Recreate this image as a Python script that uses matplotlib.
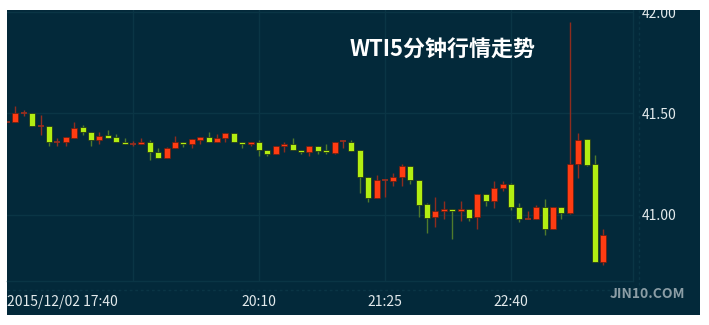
import matplotlib
matplotlib.use("Agg")
import matplotlib.pyplot as plt
from matplotlib.patches import Rectangle
from matplotlib.lines import Line2D

opens = [41.46, 41.46, 41.50, 41.50, 41.44, 41.44, 41.36, 41.36, 41.38, 41.432,
         41.41, 41.369, 41.392, 41.382, 41.36, 41.35, 41.347, 41.36, 41.308, 41.278,
         41.327, 41.36, 41.349, 41.369, 41.382, 41.36, 41.38, 41.402, 41.36, 41.349,
         41.36, 41.319, 41.298, 41.338, 41.349, 41.319, 41.308, 41.339, 41.319, 41.303,
         41.363, 41.36, 41.319, 41.187, 41.08, 41.17, 41.168, 41.187, 41.24, 41.171,
         41.052, 40.986, 41.017, 41.029, 41.017, 41.029, 40.986, 41.10, 41.068, 41.13,
         41.151, 41.039, 40.978, 40.978, 41.039, 40.928, 41.039, 41.006, 41.249, 41.372,
         41.25, 40.763]
highs = [41.46, 41.537, 41.517, 41.50, 41.49, 41.44, 41.378, 41.382, 41.456, 41.444,
         41.41, 41.406, 41.418, 41.397, 41.378, 41.365, 41.378, 41.37, 41.328, 41.336,
         41.389, 41.36, 41.372, 41.382, 41.41, 41.399, 41.402, 41.402, 41.36, 41.36,
         41.368, 41.319, 41.34, 41.357, 41.38, 41.319, 41.339, 41.339, 41.347, 41.36,
         41.368, 41.368, 41.319, 41.187, 41.196, 41.175, 41.204, 41.25, 41.24, 41.171,
         41.058, 41.088, 41.068, 41.029, 41.068, 41.029, 41.10, 41.10, 41.167, 41.167,
         41.158, 41.055, 41.018, 41.047, 41.077, 41.039, 41.039, 41.951, 41.402, 41.372,
         41.295, 40.928]
lows = [41.46, 41.46, 41.489, 41.44, 41.394, 41.34, 41.34, 41.34, 41.38, 41.394,
        41.34, 41.35, 41.38, 41.359, 41.347, 41.34, 41.347, 41.27, 41.278, 41.278,
        41.327, 41.332, 41.33, 41.351, 41.36, 41.36, 41.36, 41.36, 41.33, 41.34,
        41.29, 41.29, 41.298, 41.31, 41.318, 41.301, 41.29, 41.299, 41.301, 41.298,
        41.33, 41.316, 41.105, 41.063, 41.08, 41.088, 41.141, 41.141, 41.151, 40.99,
        40.91, 40.94, 40.98, 40.877, 40.97, 40.969, 40.927, 41.042, 41.03, 41.118,
        41.022, 40.961, 40.978, 40.978, 40.898, 40.928, 40.978, 41.001, 41.182, 41.242,
        40.763, 40.75]
closes = [41.46, 41.50, 41.50, 41.44, 41.44, 41.357, 41.36, 41.382, 41.43, 41.407,
          41.369, 41.39, 41.38, 41.359, 41.347, 41.35, 41.36, 41.308, 41.278, 41.327,
          41.36, 41.347, 41.372, 41.382, 41.36, 41.38, 41.402, 41.36, 41.347, 41.36,
          41.319, 41.30, 41.34, 41.349, 41.318, 41.308, 41.339, 41.316, 41.308, 41.36,
          41.363, 41.316, 41.187, 41.08, 41.171, 41.17, 41.187, 41.24, 41.171, 41.047,
          40.984, 41.019, 41.029, 41.017, 41.029, 40.984, 41.10, 41.068, 41.13, 41.151,
          41.039, 40.978, 40.978, 41.039, 40.928, 41.039, 41.006, 41.25, 41.369, 41.245,
          40.763, 40.899]

tick_positions = [0, 30, 45, 60]
tick_labels = ['2015/12/02 17:40', '20:10', '21:25', '22:40']
grid_positions = [15, 30, 45, 60]
price_ticks = [41.00, 41.50, 42.00]
title = 'WTI5分钟行情走势'
watermark = 'JIN10.COM'

BG = '#03293a'
GRID = '#0a3545'
UP = '#ff3c12'
DOWN = '#b2ee12'
UP_WICK = '#8e2c1e'
DOWN_WICK = '#4f7a2c'
DOJI = '#962e1f'

W, H = 709, 325
fig = plt.figure(figsize=(W / 100, H / 100), dpi=100, facecolor='white')
fig.patches.append(Rectangle((7 / W, 1 - 315 / H), 693 / W, 305 / H,
                             transform=fig.transFigure, facecolor=BG, edgecolor='none', zorder=-5))

ax = fig.add_axes([7 / W, 1 - 281 / H, 626 / W, 271 / H])
ax.set_facecolor(BG)
ax.set_xlim(0.19, 74.53)
ax.set_ylim(40.671, 42.012)

for g in grid_positions:
    ax.axvline(g, color=GRID, lw=1, zorder=0)
for p in price_ticks:
    ax.axhline(p, color=GRID, lw=1, zorder=0)

bw = 0.72
for i, (o, h, l, c) in enumerate(zip(opens, highs, lows, closes)):
    if abs(c - o) < 1e-9:
        ax.vlines(i, l, h, color=DOJI, lw=1, zorder=2)
        ax.hlines(o, i - bw / 2, i + bw / 2, color=DOJI, lw=1.3, zorder=2)
        continue
    up = c > o
    col = UP if up else DOWN
    wcol = UP_WICK if up else DOWN_WICK
    ax.vlines(i, l, h, color=wcol, lw=1, zorder=2)
    ax.bar(i, abs(c - o), bottom=min(o, c), width=bw, color=col,
           edgecolor='#1c2a1a' if not up else '#6a1d10', linewidth=0.5, zorder=3)

for s in ['top', 'left']:
    ax.spines[s].set_visible(False)
for s in ['right', 'bottom']:
    ax.spines[s].set_color(GRID)
    ax.spines[s].set_linewidth(1)

ax.yaxis.tick_right()
ax.set_yticks(price_ticks)
ax.set_yticklabels([f'{p:.2f}' for p in price_ticks])
ax.set_xticks(tick_positions)
ax.set_xticklabels(tick_labels)
ax.tick_params(axis='y', length=0, pad=6, labelsize=10, labelcolor='#e3eaec')
ax.tick_params(axis='x', length=0, pad=10, labelsize=10, labelcolor='#e3eaec')
for lab in ax.get_xticklabels():
    lab.set_fontfamily(['Noto Sans CJK SC', 'DejaVu Sans'])
for lab in ax.get_yticklabels():
    lab.set_fontfamily(['Noto Sans CJK SC', 'DejaVu Sans'])
ax.get_xticklabels()[0].set_horizontalalignment('left')
ax.get_xticklabels()[0].set_x(0.19)

# outer dotted frame
fig.lines.append(Line2D([639 / W, 639 / W], [1 - 10 / H, 1 - 290 / H], transform=fig.transFigure,
                        color=GRID, lw=1, ls=(0, (2, 2))))
fig.lines.append(Line2D([7 / W, 639 / W], [1 - 290 / H, 1 - 290 / H], transform=fig.transFigure,
                        color=GRID, lw=1, ls=(0, (2, 2))))

fig.text(443 / W, 1 - 50 / H, title, color='white', fontsize=15.8, fontweight='bold',
         ha='center', va='center', family=['Noto Sans CJK SC', 'DejaVu Sans'])
fig.text(647 / W, 1 - 294 / H, watermark, color='#8b9da5', fontsize=10, fontweight='bold',
         ha='center', va='center', family=['Noto Sans CJK SC', 'DejaVu Sans'])

# white top margin covering part of the top label
fig.patches.append(Rectangle((0, 1 - 10 / H), 1, 10 / H, transform=fig.transFigure,
                             facecolor='white', edgecolor='none', zorder=20))

fig.savefig('out.png', dpi=100, facecolor='white')
